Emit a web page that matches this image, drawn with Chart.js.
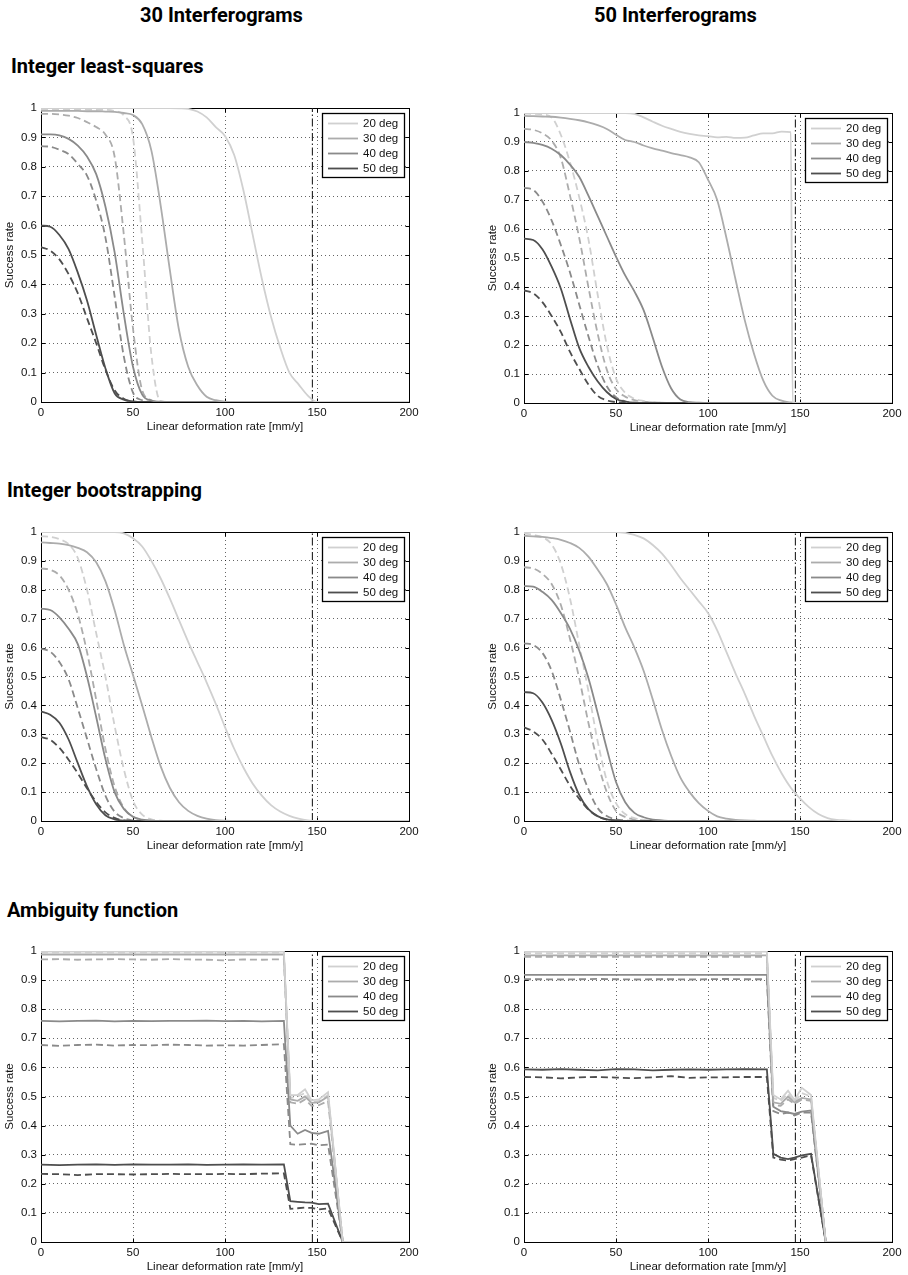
<!DOCTYPE html>
<html>
<head>
<meta charset="utf-8">
<script src="https://cdn.jsdelivr.net/npm/chart.js@4.4.1/dist/chart.umd.min.js"></script>
<style>
 body { margin: 0; background: #fff; }
 #page { position: relative; width: 908px; height: 1275px; overflow: hidden; background: #fff; }
 .head { position: absolute; font-family: Roboto, "Liberation Sans", sans-serif; font-weight: bold;
         font-size: 20px; line-height: 20px; color: #000; white-space: nowrap; }
 canvas { position: absolute; }
</style>
</head>
<body>
<div id="page">
 <div class="head" style="left:0;width:443px;text-align:center;top:5px">30 Interferograms</div>
 <div class="head" style="left:454px;width:443px;text-align:center;top:5px">50 Interferograms</div>
 <div class="head" style="left:11px;top:56px">Integer least-squares</div>
 <div class="head" style="left:7px;top:480px">Integer bootstrapping</div>
 <div class="head" style="left:7px;top:900px">Ambiguity function</div>
</div>
<script>
// ---- data ----
var degLabels = ["20 deg", "30 deg", "40 deg", "50 deg"];
var xTickLabels = ["0", "50", "100", "150", "200"];
var yTickLabels = ["0", "0.1", "0.2", "0.3", "0.4", "0.5", "0.6", "0.7", "0.8", "0.9", "1"];
var markerX = 147.5; // dash-dot reference line

var xGrid = [0,5,10,15,20,25,30,35,40,45,50,55,60,65,70,75,80,85,90,95,100,
 105,110,115,120,125,130,135,140,145,150,155,160,165,170,175,180,185,190,195,200];
var xGridIls50 = [0,5,10,15,20,25,30,35,40,45,50,55,60,65,70,75,80,85,90,95,100,
 105,110,115,120,125,130,135,140,145,146,150,155,160,165,170,175,180,185,190,195,200];
var xGridAmb = [0,10,20,30,40,50,60,70,80,90,100,110,120,132,135.5,139.5,143.5,147,151,156,164,170,180,190,200];

// Integer least-squares, 30 interferograms
var ils30_s20 = [1,1,1,1,1,1,1,1,1,1,1,1,1,1,1,0.999,0.997,0.988,0.968,0.935,0.905,0.84,0.72,0.57,0.42,0.29,0.185,0.1,0.06,0.022,0,0,0,0,0,0,0,0,0,0,0];
var ils30_s30 = [0.99,0.99,0.99,0.99,0.99,0.989,0.989,0.988,0.987,0.983,0.976,0.945,0.855,0.67,0.45,0.245,0.12,0.056,0.018,0.006,0.001,0,0,0,0,0,0,0,0,0,0,0,0,0,0,0,0,0,0,0,0];
var ils30_s40 = [0.91,0.91,0.907,0.895,0.872,0.835,0.775,0.665,0.51,0.3,0.12,0.025,0.005,0.001,0,0,0,0,0,0,0,0,0,0,0,0,0,0,0,0,0,0,0,0,0,0,0,0,0,0,0];
var ils30_s50 = [0.6,0.596,0.568,0.52,0.44,0.345,0.228,0.115,0.03,0.008,0.002,0,0,0,0,0,0,0,0,0,0,0,0,0,0,0,0,0,0,0,0,0,0,0,0,0,0,0,0,0,0];
var ils30_d20 = [0.995,0.995,0.995,0.995,0.995,0.995,0.994,0.994,0.99,0.975,0.9,0.55,0.16,0.002,0,0,0,0,0,0,0,0,0,0,0,0,0,0,0,0,0,0,0,0,0,0,0,0,0,0,0];
var ils30_d30 = [0.98,0.98,0.978,0.974,0.966,0.952,0.935,0.91,0.835,0.57,0.25,0.04,0.006,0.001,0,0,0,0,0,0,0,0,0,0,0,0,0,0,0,0,0,0,0,0,0,0,0,0,0,0,0];
var ils30_d40 = [0.87,0.868,0.858,0.843,0.81,0.77,0.685,0.56,0.36,0.155,0.032,0.006,0.001,0,0,0,0,0,0,0,0,0,0,0,0,0,0,0,0,0,0,0,0,0,0,0,0,0,0,0,0];
var ils30_d50 = [0.527,0.515,0.485,0.435,0.37,0.285,0.2,0.11,0.04,0.011,0.001,0,0,0,0,0,0,0,0,0,0,0,0,0,0,0,0,0,0,0,0,0,0,0,0,0,0,0,0,0,0];

// Integer least-squares, 50 interferograms
var ils50_s20 = [1,1,1,1,1,1,1,1,1,1,1,1,0.997,0.985,0.97,0.956,0.945,0.935,0.928,0.923,0.92,0.916,0.918,0.914,0.915,0.923,0.93,0.93,0.936,0.934,0,0,0,0,0,0,0,0,0,0,0,0];
var ils50_s30 = [0.99,0.989,0.988,0.987,0.984,0.98,0.975,0.968,0.958,0.945,0.925,0.907,0.9,0.888,0.878,0.87,0.862,0.855,0.847,0.83,0.77,0.7,0.57,0.425,0.285,0.17,0.078,0.025,0.008,0.002,0.001,0,0,0,0,0,0,0,0,0,0,0];
var ils50_s40 = [0.9,0.897,0.89,0.877,0.855,0.822,0.78,0.715,0.645,0.575,0.505,0.44,0.385,0.32,0.225,0.125,0.05,0.012,0.003,0.001,0,0,0,0,0,0,0,0,0,0,0,0,0,0,0,0,0,0,0,0,0,0];
var ils50_s50 = [0.567,0.562,0.53,0.47,0.395,0.29,0.19,0.125,0.075,0.038,0.014,0.005,0.001,0,0,0,0,0,0,0,0,0,0,0,0,0,0,0,0,0,0,0,0,0,0,0,0,0,0,0,0,0];
var ils50_d20 = [0.998,0.997,0.995,0.985,0.925,0.83,0.71,0.565,0.375,0.2,0.085,0.035,0.015,0.007,0.003,0.001,0,0,0,0,0,0,0,0,0,0,0,0,0,0,0,0,0,0,0,0,0,0,0,0,0,0];
var ils50_d30 = [0.945,0.942,0.93,0.905,0.845,0.715,0.57,0.4,0.24,0.115,0.048,0.022,0.01,0.005,0.002,0.001,0,0,0,0,0,0,0,0,0,0,0,0,0,0,0,0,0,0,0,0,0,0,0,0,0,0];
var ils50_d40 = [0.742,0.735,0.695,0.63,0.545,0.45,0.34,0.23,0.13,0.058,0.02,0.006,0.001,0,0,0,0,0,0,0,0,0,0,0,0,0,0,0,0,0,0,0,0,0,0,0,0,0,0,0,0,0];
var ils50_d50 = [0.388,0.378,0.348,0.3,0.245,0.176,0.118,0.064,0.025,0.009,0.003,0.001,0,0,0,0,0,0,0,0,0,0,0,0,0,0,0,0,0,0,0,0,0,0,0,0,0,0,0,0,0,0];

// Integer bootstrapping, 30 interferograms
var ib30_s20 = [1,1,1,1,1,1,1,1,1,0.995,0.978,0.95,0.9,0.84,0.77,0.695,0.62,0.55,0.48,0.405,0.325,0.25,0.185,0.13,0.088,0.055,0.033,0.018,0.008,0.002,0,0,0,0,0,0,0,0,0,0,0];
var ib30_s30 = [0.964,0.962,0.96,0.955,0.945,0.93,0.895,0.83,0.73,0.61,0.505,0.4,0.29,0.19,0.115,0.065,0.035,0.018,0.008,0.003,0.001,0,0,0,0,0,0,0,0,0,0,0,0,0,0,0,0,0,0,0,0];
var ib30_s40 = [0.735,0.73,0.705,0.665,0.612,0.5,0.36,0.215,0.1,0.042,0.015,0.005,0.001,0,0,0,0,0,0,0,0,0,0,0,0,0,0,0,0,0,0,0,0,0,0,0,0,0,0,0,0];
var ib30_s50 = [0.379,0.368,0.34,0.282,0.2,0.12,0.058,0.02,0.006,0.001,0,0,0,0,0,0,0,0,0,0,0,0,0,0,0,0,0,0,0,0,0,0,0,0,0,0,0,0,0,0,0];
var ib30_d20 = [0.985,0.983,0.975,0.958,0.91,0.8,0.65,0.5,0.33,0.18,0.07,0.022,0.006,0.001,0,0,0,0,0,0,0,0,0,0,0,0,0,0,0,0,0,0,0,0,0,0,0,0,0,0,0];
var ib30_d30 = [0.874,0.869,0.85,0.8,0.715,0.585,0.42,0.25,0.12,0.046,0.015,0.004,0.001,0,0,0,0,0,0,0,0,0,0,0,0,0,0,0,0,0,0,0,0,0,0,0,0,0,0,0,0];
var ib30_d40 = [0.596,0.586,0.55,0.49,0.39,0.285,0.18,0.088,0.032,0.01,0.002,0,0,0,0,0,0,0,0,0,0,0,0,0,0,0,0,0,0,0,0,0,0,0,0,0,0,0,0,0,0];
var ib30_d50 = [0.29,0.281,0.253,0.212,0.165,0.113,0.066,0.03,0.011,0.002,0,0,0,0,0,0,0,0,0,0,0,0,0,0,0,0,0,0,0,0,0,0,0,0,0,0,0,0,0,0,0];

// Integer bootstrapping, 50 interferograms
var ib50_s20 = [1,1,1,1,1,1,1,1,1,1,1,0.997,0.99,0.978,0.955,0.925,0.885,0.84,0.8,0.76,0.72,0.66,0.585,0.51,0.44,0.365,0.295,0.225,0.165,0.115,0.078,0.047,0.024,0.01,0.004,0.002,0,0,0,0,0];
var ib50_s30 = [0.987,0.985,0.983,0.979,0.973,0.962,0.945,0.915,0.87,0.82,0.75,0.67,0.6,0.52,0.42,0.315,0.225,0.15,0.1,0.062,0.035,0.016,0.008,0.004,0.002,0.001,0,0,0,0,0,0,0,0,0,0,0,0,0,0,0];
var ib50_s40 = [0.813,0.811,0.793,0.765,0.72,0.665,0.59,0.495,0.375,0.25,0.135,0.065,0.028,0.013,0.005,0.002,0,0,0,0,0,0,0,0,0,0,0,0,0,0,0,0,0,0,0,0,0,0,0,0,0];
var ib50_s50 = [0.446,0.442,0.41,0.35,0.268,0.17,0.09,0.041,0.017,0.006,0.002,0,0,0,0,0,0,0,0,0,0,0,0,0,0,0,0,0,0,0,0,0,0,0,0,0,0,0,0,0,0];
var ib50_d20 = [0.995,0.99,0.982,0.957,0.89,0.77,0.61,0.45,0.277,0.14,0.062,0.024,0.01,0.004,0.001,0,0,0,0,0,0,0,0,0,0,0,0,0,0,0,0,0,0,0,0,0,0,0,0,0,0];
var ib50_d30 = [0.878,0.874,0.855,0.82,0.748,0.63,0.494,0.34,0.205,0.1,0.035,0.014,0.005,0.002,0,0,0,0,0,0,0,0,0,0,0,0,0,0,0,0,0,0,0,0,0,0,0,0,0,0,0];
var ib50_d40 = [0.615,0.609,0.582,0.52,0.42,0.31,0.195,0.11,0.045,0.017,0.006,0.002,0,0,0,0,0,0,0,0,0,0,0,0,0,0,0,0,0,0,0,0,0,0,0,0,0,0,0,0,0];
var ib50_d50 = [0.324,0.31,0.282,0.233,0.178,0.122,0.077,0.04,0.016,0.005,0.001,0,0,0,0,0,0,0,0,0,0,0,0,0,0,0,0,0,0,0,0,0,0,0,0,0,0,0,0,0,0];

// Ambiguity function, 30 interferograms
var amb30_s20 = [0.998,0.998,0.998,0.998,0.998,0.998,0.998,0.998,0.998,0.998,0.998,0.998,0.998,0.998,0.505,0.505,0.525,0.487,0.49,0.515,0,0,0,0,0];
var amb30_s30 = [0.988,0.988,0.988,0.988,0.988,0.988,0.988,0.988,0.988,0.988,0.988,0.988,0.988,0.988,0.49,0.485,0.5,0.478,0.48,0.5,0,0,0,0,0];
var amb30_s40 = [0.76,0.758,0.76,0.761,0.758,0.76,0.759,0.76,0.76,0.761,0.759,0.76,0.758,0.76,0.4,0.372,0.385,0.375,0.372,0.382,0,0,0,0,0];
var amb30_s50 = [0.266,0.264,0.266,0.267,0.265,0.267,0.266,0.266,0.267,0.265,0.266,0.267,0.266,0.267,0.14,0.138,0.136,0.135,0.13,0.132,0,0,0,0,0];
var amb30_d20 = [0.995,0.995,0.995,0.995,0.995,0.995,0.995,0.995,0.995,0.995,0.995,0.995,0.995,0.995,0.495,0.5,0.512,0.48,0.485,0.505,0,0,0,0,0];
var amb30_d30 = [0.971,0.972,0.97,0.971,0.972,0.971,0.97,0.972,0.971,0.97,0.968,0.971,0.97,0.972,0.48,0.475,0.49,0.468,0.47,0.485,0,0,0,0,0];
var amb30_d40 = [0.677,0.674,0.677,0.678,0.675,0.677,0.676,0.678,0.677,0.675,0.676,0.675,0.677,0.68,0.336,0.334,0.336,0.338,0.332,0.335,0,0,0,0,0];
var amb30_d50 = [0.234,0.233,0.23,0.233,0.233,0.232,0.233,0.234,0.233,0.233,0.234,0.233,0.235,0.236,0.114,0.116,0.118,0.117,0.112,0.115,0,0,0,0,0];

// Ambiguity function, 50 interferograms
var amb50_s20 = [0.998,0.998,0.998,0.998,0.998,0.998,0.998,0.998,0.998,0.998,0.998,0.998,0.998,0.998,0.505,0.49,0.52,0.488,0.53,0.505,0,0,0,0,0];
var amb50_s30 = [0.985,0.985,0.985,0.985,0.985,0.985,0.985,0.985,0.985,0.985,0.985,0.985,0.985,0.985,0.48,0.475,0.5,0.48,0.495,0.49,0,0,0,0,0];
var amb50_s40 = [0.918,0.918,0.918,0.918,0.918,0.918,0.918,0.918,0.918,0.918,0.918,0.918,0.918,0.918,0.465,0.45,0.445,0.44,0.448,0.452,0,0,0,0,0];
var amb50_s50 = [0.593,0.592,0.594,0.592,0.59,0.594,0.593,0.59,0.592,0.593,0.592,0.593,0.594,0.593,0.303,0.29,0.285,0.29,0.298,0.303,0,0,0,0,0];
var amb50_d20 = [0.993,0.993,0.993,0.993,0.993,0.993,0.993,0.993,0.993,0.993,0.993,0.993,0.993,0.993,0.495,0.485,0.51,0.48,0.512,0.5,0,0,0,0,0];
var amb50_d30 = [0.98,0.98,0.98,0.98,0.98,0.98,0.98,0.98,0.98,0.98,0.98,0.98,0.98,0.98,0.47,0.468,0.49,0.475,0.49,0.485,0,0,0,0,0];
var amb50_d40 = [0.903,0.903,0.902,0.903,0.904,0.903,0.902,0.903,0.903,0.902,0.903,0.904,0.903,0.903,0.45,0.44,0.445,0.435,0.445,0.445,0,0,0,0,0];
var amb50_d50 = [0.567,0.566,0.562,0.566,0.567,0.565,0.563,0.566,0.57,0.564,0.566,0.566,0.567,0.567,0.29,0.283,0.28,0.285,0.29,0.298,0,0,0,0,0];

// ---- styling ----
var degColors = ["#d0d0d0", "#acacac", "#8a8a8a", "#4e4e4e"];
var curveWidth = 1.8;
var axisFont = { family: '"Liberation Sans", Arial, sans-serif', size: 11.5 };
var textColor = "#111";

Chart.defaults.font.family = axisFont.family;
Chart.defaults.font.size = axisFont.size;
Chart.defaults.color = textColor;

// frame with inward tick marks, like the matlab axes box
var framePlugin = {
 id: "frame",
 beforeDatasetsDraw: function (chart) {
  var ctx = chart.ctx, a = chart.chartArea;
  var x = chart.scales.x, y = chart.scales.y;
  var L = Math.round(a.left) + 0.5, R = Math.round(a.right) + 0.5;
  var T = Math.round(a.top) + 0.5, B = Math.round(a.bottom) + 0.5;
  ctx.save();
  ctx.strokeStyle = "#000";
  ctx.lineWidth = 1;
  ctx.beginPath();
  x.ticks.forEach(function (t) {
   var px = Math.round(x.getPixelForValue(t.value)) + 0.5;
   ctx.moveTo(px, B); ctx.lineTo(px, B - 4);
   ctx.moveTo(px, T); ctx.lineTo(px, T + 4);
  });
  y.ticks.forEach(function (t) {
   var py = Math.round(y.getPixelForValue(t.value)) + 0.5;
   ctx.moveTo(L, py); ctx.lineTo(L + 4, py);
   ctx.moveTo(R, py); ctx.lineTo(R - 4, py);
  });
  ctx.stroke();
  ctx.strokeRect(L, T, R - L, B - T);
  ctx.restore();
 }
};

// boxed legend in the upper right corner of the plot area
var boxLegendPlugin = {
 id: "boxLegend",
 afterDatasetsDraw: function (chart) {
  var ctx = chart.ctx, a = chart.chartArea;
  var w = 82, h = 64;
  var x0 = Math.round(a.right) - 5 - w, y0 = Math.round(a.top) + 5;
  ctx.save();
  ctx.fillStyle = "#fff";
  ctx.fillRect(x0, y0, w, h);
  ctx.strokeStyle = "#000";
  ctx.lineWidth = 1.3;
  ctx.strokeRect(x0 + 0.5, y0 + 0.5, w, h);
  ctx.font = axisFont.size + "px " + axisFont.family;
  ctx.textAlign = "left";
  ctx.textBaseline = "middle";
  degLabels.forEach(function (lab, i) {
   var yy = y0 + 10.5 + i * 15;
   ctx.strokeStyle = degColors[i];
   ctx.lineWidth = curveWidth;
   ctx.beginPath();
   ctx.moveTo(x0 + 6, yy);
   ctx.lineTo(x0 + 36, yy);
   ctx.stroke();
   ctx.fillStyle = textColor;
   ctx.fillText(lab, x0 + 41, yy);
  });
  ctx.restore();
 }
};

function toPoints(xs, ys) {
 return xs.map(function (x, i) {
  return { x: x, y: ys[i] };
 });
}

function makeDatasets(xs, solid, dashed, smooth) {
 var sets = [];
 solid.forEach(function (ys, i) {
  sets.push({
   data: toPoints(xs, ys),
   borderColor: degColors[i],
   borderWidth: curveWidth,
   cubicInterpolationMode: smooth ? "monotone" : "default",
   tension: 0
  });
 });
 dashed.forEach(function (ys, i) {
  sets.push({
   data: toPoints(xs, ys),
   borderColor: degColors[i],
   borderWidth: curveWidth,
   borderDash: [7, 4],
   cubicInterpolationMode: smooth ? "monotone" : "default",
   tension: 0
  });
 });
 sets.push({
  data: [{ x: markerX, y: 0 }, { x: markerX, y: 1 }],
  borderColor: "#222",
  borderWidth: 1.1,
  borderDash: [8, 2.5, 1.5, 2.5]
 });
 return sets;
}

var panels = [
 { left: 41, top: 108, h: 294, xs: xGrid, smooth: true,
   solid: [ils30_s20, ils30_s30, ils30_s40, ils30_s50], dashed: [ils30_d20, ils30_d30, ils30_d40, ils30_d50] },
 { left: 524, top: 113, h: 290, xs: xGridIls50, smooth: true,
   solid: [ils50_s20, ils50_s30, ils50_s40, ils50_s50], dashed: [ils50_d20, ils50_d30, ils50_d40, ils50_d50] },
 { left: 41, top: 532, h: 289, xs: xGrid, smooth: true,
   solid: [ib30_s20, ib30_s30, ib30_s40, ib30_s50], dashed: [ib30_d20, ib30_d30, ib30_d40, ib30_d50] },
 { left: 524, top: 532, h: 289, xs: xGrid, smooth: true,
   solid: [ib50_s20, ib50_s30, ib50_s40, ib50_s50], dashed: [ib50_d20, ib50_d30, ib50_d40, ib50_d50] },
 { left: 41, top: 951, h: 291, xs: xGridAmb, smooth: false,
   solid: [amb30_s20, amb30_s30, amb30_s40, amb30_s50], dashed: [amb30_d20, amb30_d30, amb30_d40, amb30_d50] },
 { left: 524, top: 951, h: 291, xs: xGridAmb, smooth: false,
   solid: [amb50_s20, amb50_s30, amb50_s40, amb50_s50], dashed: [amb50_d20, amb50_d30, amb50_d40, amb50_d50] }
];

var yAxisW = 41, padTop = 8, padRight = 14, xAxisH = 40, plotW = 368;
var page = document.getElementById("page");

panels.forEach(function (p) {
 var canvas = document.createElement("canvas");
 canvas.width = yAxisW + plotW + padRight;
 canvas.height = padTop + p.h + xAxisH;
 canvas.style.left = (p.left - yAxisW) + "px";
 canvas.style.top = (p.top - padTop) + "px";
 page.appendChild(canvas);

 new Chart(canvas, {
  type: "line",
  data: { datasets: makeDatasets(p.xs, p.solid, p.dashed, p.smooth) },
  options: {
   responsive: false,
   animation: false,
   devicePixelRatio: 1,
   layout: { padding: { top: padTop, right: padRight, left: 0, bottom: 0 } },
   elements: { point: { radius: 0 } },
   plugins: { legend: { display: false }, tooltip: { enabled: false } },
   scales: {
    x: {
     type: "linear", min: 0, max: 200,
     ticks: {
      stepSize: 50, padding: 4, maxRotation: 0, autoSkip: false,
      callback: function (v, i) { return xTickLabels[i]; }
     },
     grid: { color: "rgba(0,0,0,0.6)", lineWidth: 1, drawTicks: false },
     border: { display: false, dash: [1, 3] },
     title: { display: true, text: "Linear deformation rate [mm/y]", padding: { top: 0, bottom: 8 } },
     afterFit: function (s) { s.height = xAxisH; s.paddingLeft = 0; s.paddingRight = 0; }
    },
    y: {
     type: "linear", min: 0, max: 1,
     ticks: {
      stepSize: 0.1, padding: 4, autoSkip: false,
      callback: function (v, i) { return yTickLabels[i]; }
     },
     grid: { color: "rgba(0,0,0,0.6)", lineWidth: 1, drawTicks: false },
     border: { display: false, dash: [1, 3] },
     title: { display: true, text: "Success rate", padding: { top: 3, bottom: 0 } },
     afterFit: function (s) { s.width = yAxisW; s.paddingTop = 0; s.paddingBottom = 0; }
    }
   }
  },
  plugins: [framePlugin, boxLegendPlugin]
 });
});
</script>
</body>
</html>
